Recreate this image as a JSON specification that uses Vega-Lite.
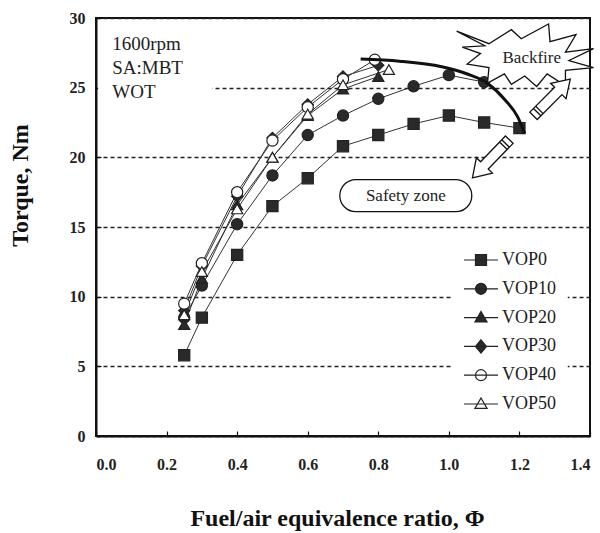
{
  "$schema": "https://vega.github.io/schema/vega-lite/v6.json",
  "width": 494,
  "height": 418,
  "autosize": {"type": "none"},
  "padding": {"left": 96, "top": 18, "right": 10, "bottom": 97},
  "background": "white",
  "config": {
    "view": {"stroke": "#111", "strokeWidth": 2},
    "font": "Liberation Serif",
    "legend": {"symbolStrokeColor": "#222", "symbolStrokeWidth": 1.2},
    "axis": {
      "labelFont": "Liberation Serif",
      "labelFontSize": 16,
      "labelFontWeight": "bold",
      "labelColor": "#222",
      "titleFont": "Liberation Serif",
      "titleFontSize": 24,
      "titleFontWeight": "bold",
      "titleColor": "#111",
      "domainColor": "#111",
      "domainWidth": 2,
      "tickColor": "#111",
      "tickSize": -5,
      "tickWidth": 1.2
    }
  },
  "datasets": {
    "series": [
      {"series": "VOP0", "phi": 0.25, "torque": 5.8},
      {"series": "VOP0", "phi": 0.3, "torque": 8.5},
      {"series": "VOP0", "phi": 0.4, "torque": 13.0},
      {"series": "VOP0", "phi": 0.5, "torque": 16.5},
      {"series": "VOP0", "phi": 0.6, "torque": 18.5},
      {"series": "VOP0", "phi": 0.7, "torque": 20.8},
      {"series": "VOP0", "phi": 0.8, "torque": 21.6},
      {"series": "VOP0", "phi": 0.9, "torque": 22.4},
      {"series": "VOP0", "phi": 1.0, "torque": 23.0},
      {"series": "VOP0", "phi": 1.1, "torque": 22.5},
      {"series": "VOP0", "phi": 1.2, "torque": 22.1},
      {"series": "VOP10", "phi": 0.25, "torque": 8.5},
      {"series": "VOP10", "phi": 0.3, "torque": 10.8},
      {"series": "VOP10", "phi": 0.4, "torque": 15.2},
      {"series": "VOP10", "phi": 0.5, "torque": 18.7},
      {"series": "VOP10", "phi": 0.6, "torque": 21.6},
      {"series": "VOP10", "phi": 0.7, "torque": 23.0},
      {"series": "VOP10", "phi": 0.8, "torque": 24.2},
      {"series": "VOP10", "phi": 0.9, "torque": 25.1},
      {"series": "VOP10", "phi": 1.0, "torque": 25.9},
      {"series": "VOP10", "phi": 1.1, "torque": 25.4},
      {"series": "VOP20", "phi": 0.25, "torque": 8.0},
      {"series": "VOP20", "phi": 0.3, "torque": 11.3},
      {"series": "VOP20", "phi": 0.4, "torque": 16.6},
      {"series": "VOP20", "phi": 0.5, "torque": 20.0},
      {"series": "VOP20", "phi": 0.6, "torque": 23.0},
      {"series": "VOP20", "phi": 0.7, "torque": 24.9},
      {"series": "VOP20", "phi": 0.8, "torque": 25.8},
      {"series": "VOP30", "phi": 0.25, "torque": 9.0},
      {"series": "VOP30", "phi": 0.3, "torque": 12.2},
      {"series": "VOP30", "phi": 0.4, "torque": 17.2},
      {"series": "VOP30", "phi": 0.5, "torque": 21.4},
      {"series": "VOP30", "phi": 0.6, "torque": 23.8},
      {"series": "VOP30", "phi": 0.7, "torque": 25.8},
      {"series": "VOP30", "phi": 0.8, "torque": 26.6},
      {"series": "VOP40", "phi": 0.25, "torque": 9.5},
      {"series": "VOP40", "phi": 0.3, "torque": 12.4},
      {"series": "VOP40", "phi": 0.4, "torque": 17.5},
      {"series": "VOP40", "phi": 0.5, "torque": 21.2},
      {"series": "VOP40", "phi": 0.6, "torque": 23.6},
      {"series": "VOP40", "phi": 0.7, "torque": 25.6},
      {"series": "VOP40", "phi": 0.79, "torque": 27.0},
      {"series": "VOP50", "phi": 0.25, "torque": 8.7},
      {"series": "VOP50", "phi": 0.3, "torque": 11.8},
      {"series": "VOP50", "phi": 0.4, "torque": 16.3},
      {"series": "VOP50", "phi": 0.5, "torque": 20.0},
      {"series": "VOP50", "phi": 0.6, "torque": 23.1},
      {"series": "VOP50", "phi": 0.7, "torque": 25.2},
      {"series": "VOP50", "phi": 0.83, "torque": 26.3}
    ],
    "boundary": [
      {"phi": 0.75, "torque": 27.05},
      {"phi": 0.86, "torque": 26.9},
      {"phi": 0.98, "torque": 26.5},
      {"phi": 1.05, "torque": 26.0},
      {"phi": 1.11, "torque": 25.3},
      {"phi": 1.16, "torque": 24.1},
      {"phi": 1.195, "torque": 22.9},
      {"phi": 1.215, "torque": 21.7}
    ],
    "notes": [
      {"label": "1600rpm", "phi": 0.046, "torque": 28.1},
      {"label": "SA:MBT", "phi": 0.046, "torque": 26.4},
      {"label": "WOT", "phi": 0.046, "torque": 24.7}
    ]
  },
  "layer": [
    {
      "data": {"values": [{}]},
      "mark": {"type": "rect", "fill": "white", "stroke": null},
      "encoding": {
        "x": {"datum": 0.006, "type": "quantitative", "scale": {"domain": [0, 1.4], "nice": false},
          "axis": {"values": [0, 0.2, 0.4, 0.6, 0.8, 1.0, 1.2, 1.4], "format": ".1f", "grid": false, "labelPadding": 25,
            "title": "Fuel/air equivalence ratio, Φ", "titleY": 70, "titleX": 241, "titleBaseline": "top"}},
        "x2": {"datum": 0.33},
        "y": {"datum": 23.8, "type": "quantitative", "scale": {"domain": [0, 30], "nice": false},
          "axis": {"values": [0, 5, 10, 15, 20, 25, 30], "grid": true, "gridDash": [4, 3], "gridColor": "#222", "gridWidth": 1.5,
            "labelPadding": 16, "title": "Torque, Nm", "titleX": -76, "titleY": 167, "titleBaseline": "middle", "titleAngle": -90}},
        "y2": {"datum": 29.6}
      }
    },
    {
      "data": {"values": [{}]},
      "mark": {"type": "rect", "fill": "white", "stroke": null},
      "encoding": {"x": {"datum": 1.008}, "x2": {"datum": 1.337}, "y": {"datum": 1.6}, "y2": {"datum": 13.6}}
    },
    {
      "data": {"name": "series"},
      "mark": {"type": "line", "color": "#333", "strokeWidth": 1},
      "encoding": {
        "x": {"field": "phi", "type": "quantitative"},
        "y": {"field": "torque", "type": "quantitative"},
        "detail": {"field": "series"}
      }
    },
    {
      "data": {"name": "series"},
      "mark": {"type": "point", "filled": true, "stroke": "#222", "strokeWidth": 1.2, "opacity": 1, "size": 125},
      "encoding": {
        "x": {"field": "phi", "type": "quantitative"},
        "y": {"field": "torque", "type": "quantitative"},
        "shape": {"field": "series", "type": "nominal", "legend": null,
          "scale": {"domain": ["VOP0", "VOP10", "VOP20", "VOP30", "VOP40", "VOP50"],
            "range": ["square", "circle", "triangle-up", "diamond", "circle", "triangle-up"]}},
        "fill": {"field": "series", "type": "nominal", "legend": null,
          "scale": {"domain": ["VOP0", "VOP10", "VOP20", "VOP30", "VOP40", "VOP50"],
            "range": ["#2a2a2a", "#2a2a2a", "#2a2a2a", "#2a2a2a", "white", "white"]}}
      }
    },
    {
      "data": {"name": "boundary"},
      "mark": {"type": "line", "color": "#111", "strokeWidth": 3, "interpolate": "monotone"},
      "encoding": {
        "x": {"field": "phi", "type": "quantitative"},
        "y": {"field": "torque", "type": "quantitative"}
      }
    },
    {
      "data": {"values": [{}]},
      "mark": {"type": "point", "filled": true, "fill": "white", "stroke": "#111", "strokeWidth": 1.3, "opacity": 1, "size": 19700,
        "shape": "M-1,-0.35L-0.54,-0.17L-0.22,-0.37L-0.08,-0.24L0.31,-0.45L0.33,-0.2L0.7,-0.3L0.55,-0.05L0.95,-0.1L0.6,0.07L0.95,0.17L0.55,0.21L0.55,0.43L0.29,0.26L0.14,0.44L-0.03,0.29L-0.22,0.41L-0.32,0.26L-0.56,0.39L-0.54,0.17L-0.85,0.12L-0.66,-0.03L-0.92,-0.12L-0.6,-0.14Z"},
      "encoding": {"x": {"datum": 1.221}, "y": {"datum": 27.3}}
    },
    {
      "data": {"values": [{}]},
      "mark": {"type": "point", "filled": true, "fill": "white", "stroke": "#111", "strokeWidth": 1.3, "opacity": 1, "size": 2704, "angle": -45,
        "shape": "M-1,-0.2H0.35V-0.42L1,0L0.35,0.42V0.2H-1ZM-0.8,-0.2V0.2M-0.68,-0.2V0.2"},
      "encoding": {"x": {"datum": 1.292}, "y": {"datum": 24.3}}
    },
    {
      "data": {"values": [{}]},
      "mark": {"type": "point", "filled": true, "fill": "white", "stroke": "#111", "strokeWidth": 1.3, "opacity": 1, "size": 2809, "angle": 134,
        "shape": "M-1,-0.2H0.35V-0.42L1,0L0.35,0.42V0.2H-1ZM-0.8,-0.2V0.2M-0.68,-0.2V0.2"},
      "encoding": {"x": {"datum": 1.119}, "y": {"datum": 19.9}}
    },
    {
      "data": {"values": [{}]},
      "mark": {"type": "rect", "fill": "white", "stroke": "#111", "strokeWidth": 1.3, "cornerRadius": 16},
      "encoding": {"x": {"datum": 0.691}, "x2": {"datum": 1.065}, "y": {"datum": 18.4}, "y2": {"datum": 16.1}}
    },
    {
      "data": {"values": [{"label": "Safety zone", "phi": 0.878, "torque": 17.25}, {"label": "Backfire", "phi": 1.235, "torque": 27.1}]},
      "mark": {"type": "text", "font": "Liberation Serif", "fontSize": 17, "color": "#222", "align": "center", "baseline": "middle"},
      "encoding": {
        "x": {"field": "phi", "type": "quantitative"},
        "y": {"field": "torque", "type": "quantitative"},
        "text": {"field": "label"}
      }
    },
    {
      "data": {"name": "notes"},
      "mark": {"type": "text", "font": "Liberation Serif", "fontSize": 19, "color": "#222", "align": "left", "baseline": "middle"},
      "encoding": {
        "x": {"field": "phi", "type": "quantitative"},
        "y": {"field": "torque", "type": "quantitative"},
        "text": {"field": "label"}
      }
    },
    {
      "data": {"name": "series"},
      "transform": [{"filter": "false"}],
      "mark": {"type": "point", "filled": true, "opacity": 1},
      "encoding": {
        "x": {"field": "phi", "type": "quantitative"},
        "y": {"field": "torque", "type": "quantitative"},
        "shape": {"field": "series", "type": "nominal",
          "scale": {"domain": ["VOP0", "VOP10", "VOP20", "VOP30", "VOP40", "VOP50"],
            "range": [
              "M-3.1,0H3.1M-1,-1H1V1H-1Z",
              "M-3.1,0H3.1M-1,0A1,1,0,1,0,1,0A1,1,0,1,0,-1,0Z",
              "M-3.1,0H3.1M0,-1.1L1.1,0.8H-1.1Z",
              "M-3.1,0H3.1M0,-1.2L1,0L0,1.2L-1,0Z",
              "M-3.1,0H3.1M-1,0A1,1,0,1,0,1,0A1,1,0,1,0,-1,0Z",
              "M-3.1,0H3.1M0,-1.1L1.1,0.8H-1.1Z"
            ]},
          "legend": {"orient": "none", "legendX": 366, "legendY": 223, "title": null, "padding": 10, "fillColor": null, "strokeColor": null,
            "symbolSize": 121, "symbolStrokeWidth": 1.2, "labelFont": "Liberation Serif", "labelFontSize": 18,
            "labelColor": "#222", "labelOffset": 12, "rowPadding": 10.8}},
        "fill": {"field": "series", "type": "nominal",
          "scale": {"domain": ["VOP0", "VOP10", "VOP20", "VOP30", "VOP40", "VOP50"],
            "range": ["#2a2a2a", "#2a2a2a", "#2a2a2a", "#2a2a2a", "white", "white"]},
          "legend": {"orient": "none", "legendX": 366, "legendY": 223, "title": null, "padding": 10, "fillColor": null, "strokeColor": null,
            "symbolSize": 121, "symbolStrokeWidth": 1.2, "labelFont": "Liberation Serif", "labelFontSize": 18,
            "labelColor": "#222", "labelOffset": 12, "rowPadding": 10.8}},
        "stroke": {"field": "series", "type": "nominal",
          "scale": {"domain": ["VOP0", "VOP10", "VOP20", "VOP30", "VOP40", "VOP50"],
            "range": ["#222", "#222", "#222", "#222", "#222", "#222"]},
          "legend": {"orient": "none", "legendX": 366, "legendY": 223, "title": null, "padding": 10, "fillColor": null, "strokeColor": null,
            "symbolSize": 121, "symbolStrokeWidth": 1.2, "labelFont": "Liberation Serif", "labelFontSize": 18,
            "labelColor": "#222", "labelOffset": 12, "rowPadding": 10.8}}
      }
    }
  ],
  "resolve": {"scale": {"shape": "independent", "fill": "independent", "stroke": "independent"}}
}
